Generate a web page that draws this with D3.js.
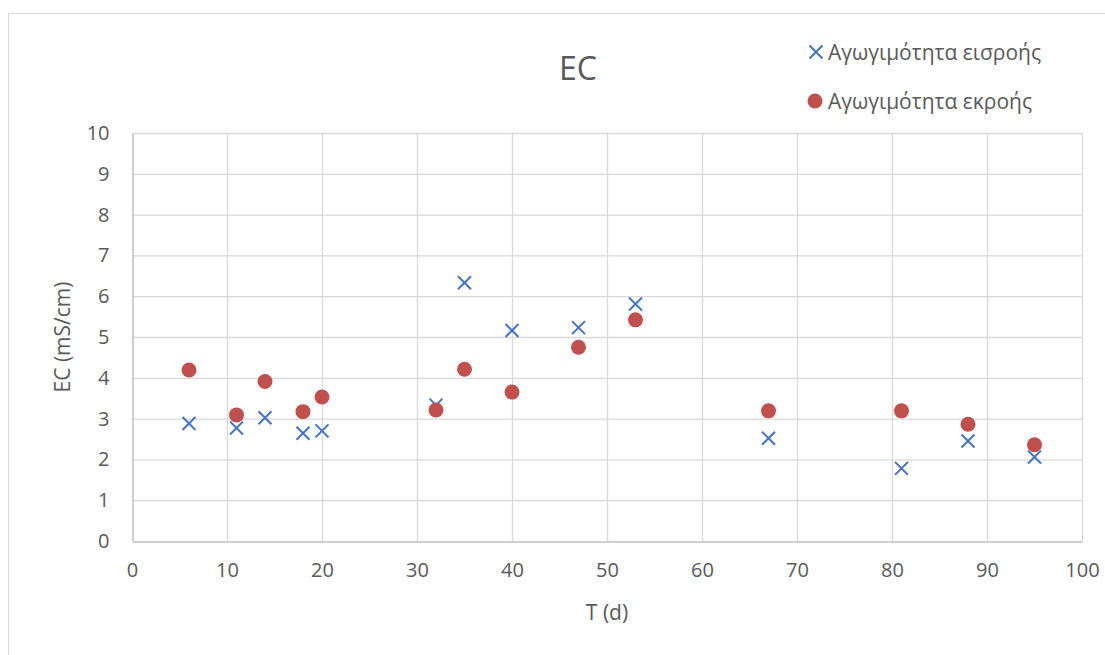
<!DOCTYPE html>
<html>
<head>
<meta charset="utf-8">
<script src="https://cdn.jsdelivr.net/npm/d3@7"></script>
<style>
  html, body { margin: 0; padding: 0; background: #fff; }
  svg { display: block; font-family: "Open Sans", "Noto Sans", sans-serif; }
</style>
</head>
<body>
<svg id="chart" width="1105" height="655"></svg>
<script>
// Sampling days
const days = [6, 11, 14, 18, 20, 32, 35, 40, 47, 53, 67, 81, 88, 95];
// Conductivity at the inlet (mS/cm)
const ecInflow = [2.88, 2.77, 3.02, 2.64, 2.70, 3.33, 6.33, 5.16, 5.23, 5.81, 2.52, 1.78, 2.45, 2.06];
// Conductivity at the outlet (mS/cm)
const ecOutflow = [4.19, 3.09, 3.91, 3.17, 3.53, 3.21, 4.21, 3.65, 4.75, 5.42, 3.19, 3.19, 2.86, 2.36];

const xTicks = [0, 10, 20, 30, 40, 50, 60, 70, 80, 90, 100];
const yTicks = [0, 1, 2, 3, 4, 5, 6, 7, 8, 9, 10];

const seriesNames = ["Αγωγιμότητα εισροής", "Αγωγιμότητα εκροής"];
const chartTitle = "EC";
const xTitle = "T (d)";
const yTitle = "EC (mS/cm)";

const blue = "#4472C4";
const red = "#C0504D";
const textColor = "#595959";

const svg = d3.select("#chart");

// outer chart frame
svg.append("rect")
  .attr("x", 8.5).attr("y", 13.5)
  .attr("width", 1120).attr("height", 700)
  .attr("fill", "none").attr("stroke", "#d9d9d9").attr("stroke-width", 1);

const plot = { left: 132, right: 1082, top: 133, bottom: 541 };

const x = d3.scaleLinear().domain([0, 100]).range([plot.left, plot.right]);
const y = d3.scaleLinear().domain([0, 10]).range([plot.bottom, plot.top]);

// gridlines
const grid = svg.append("g");
grid.selectAll("line.v").data(xTicks.filter(d => d > 0)).join("line")
  .attr("x1", d => x(d) + 0.5).attr("x2", d => x(d) + 0.5)
  .attr("y1", plot.top).attr("y2", plot.bottom)
  .attr("stroke", "#d9d9d9").attr("stroke-width", 1.3);
grid.selectAll("line.h").data(yTicks.filter(d => d > 0)).join("line")
  .attr("x1", plot.left).attr("x2", plot.right)
  .attr("y1", d => y(d) + 0.5).attr("y2", d => y(d) + 0.5)
  .attr("stroke", "#d9d9d9").attr("stroke-width", 1.3);

// axes
const xAxis = svg.append("g")
  .attr("transform", `translate(0,${plot.bottom + 0.5})`)
  .call(d3.axisBottom(x).tickValues(xTicks).tickSize(0).tickPadding(21));
const yAxis = svg.append("g")
  .attr("transform", `translate(${plot.left + 0.5},0)`)
  .call(d3.axisLeft(y).tickValues(yTicks).tickSize(0).tickPadding(23));
[xAxis, yAxis].forEach(a => {
  a.select(".domain").attr("stroke", "#bfbfbf").attr("stroke-width", 1.5);
  a.selectAll("text").attr("fill", textColor).style("font-size", "20px")
    .style("font-family", '"Open Sans", sans-serif');
});

// axis titles
svg.append("text")
  .attr("x", (plot.left + plot.right) / 2).attr("y", 620)
  .attr("text-anchor", "middle").attr("fill", textColor)
  .style("font-size", "21px").text(xTitle);
svg.append("text")
  .attr("transform", `translate(70,${(plot.top + plot.bottom) / 2}) rotate(-90)`)
  .attr("text-anchor", "middle").attr("fill", textColor)
  .style("font-size", "21px").text(yTitle);

// title
svg.append("text")
  .attr("x", 578).attr("y", 80)
  .attr("text-anchor", "middle").attr("fill", textColor)
  .style("font-size", "32px").text(chartTitle);

// X-shaped marker path
const cross = s => `M${-s},${-s}L${s},${s}M${-s},${s}L${s},${-s}`;

const inflow = days.map((d, i) => ({ t: d, v: ecInflow[i] }));
const outflow = days.map((d, i) => ({ t: d, v: ecOutflow[i] }));

svg.append("g").selectAll("path").data(inflow).join("path")
  .attr("transform", d => `translate(${x(d.t)},${y(d.v)})`)
  .attr("d", cross(6.5))
  .attr("stroke", blue).attr("stroke-width", 2).attr("fill", "none");

svg.append("g").selectAll("circle").data(outflow).join("circle")
  .attr("cx", d => x(d.t)).attr("cy", d => y(d.v))
  .attr("r", 7.5).attr("fill", red);

// legend
const legend = svg.append("g");
legend.append("path")
  .attr("transform", "translate(816,52)")
  .attr("d", cross(6.5))
  .attr("stroke", blue).attr("stroke-width", 2).attr("fill", "none");
legend.append("text")
  .attr("x", 828).attr("y", 60).attr("fill", textColor)
  .style("font-size", "21px").text(seriesNames[0]);
legend.append("circle")
  .attr("cx", 815).attr("cy", 101).attr("r", 7.5).attr("fill", red);
legend.append("text")
  .attr("x", 828).attr("y", 109).attr("fill", textColor)
  .style("font-size", "21px").text(seriesNames[1]);
</script>
</body>
</html>
